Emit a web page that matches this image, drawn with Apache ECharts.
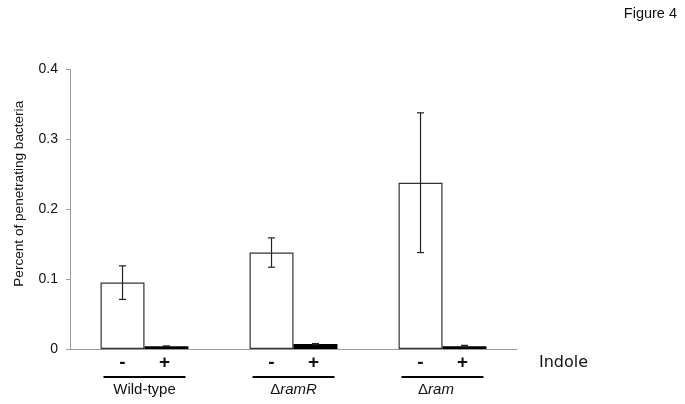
<!DOCTYPE html>
<html>
<head>
<meta charset="utf-8">
<script src="https://cdn.jsdelivr.net/npm/echarts@6/dist/echarts.min.js"></script>
<style>
  html, body { margin: 0; padding: 0; background: #fff; }
  #chart { width: 685px; height: 404px; }
</style>
</head>
<body>
<div id="chart"></div>
<script>
  // strains on the x axis
  const groups = ['Wild-type', 'ΔramR', 'Δram'];
  // percent of penetrating bacteria, without / with indole
  const withoutIndole = [0.095, 0.138, 0.238];
  const withIndole = [0.004, 0.007, 0.004];
  // error bar half-lengths
  const errWithout = [0.024, 0.021, 0.100];
  const errWith = [0.0004, 0.0008, 0.0012];
  const yTicks = [0, 0.1, 0.2, 0.3, 0.4];

  const chart = echarts.init(document.getElementById('chart'));

  const BAR_W = 0.295; // share of the band taken by one bar

  const errData = [];
  groups.forEach(function (g, i) {
    errData.push([i, withoutIndole[i], errWithout[i], -1]);
    errData.push([i, withIndole[i], errWith[i], 1]);
  });

  const option = {
    animation: false,
    textStyle: { fontFamily: 'Liberation Sans, Arial, sans-serif' },
    grid: { left: 70, right: 168, top: 69.5, bottom: 55 },
    xAxis: {
      type: 'category',
      data: groups,
      axisLine: { lineStyle: { color: '#9a9a9a', width: 1 } },
      axisTick: { length: 2, lineStyle: { color: '#9a9a9a' } },
      axisLabel: {
        margin: 27,
        formatter: function (v) {
          let name;
          if (v.charAt(0) === 'Δ') {
            name = '{n|Δ}{it|' + v.slice(1) + '}';
            // the short name sits left-aligned with the longer one in the source
            if (v.length < 5) name += '{sp| }';
          } else {
            name = '{n|' + v + '}';
          }
          return '{line| }\n' + name;
        },
        rich: {
          line: { width: 82, height: 2, lineHeight: 2, fontSize: 1, backgroundColor: '#000' },
          n: { fontSize: 15, color: '#111', lineHeight: 22, padding: [2, 0, 0, 0] },
          it: { fontSize: 15, color: '#111', fontStyle: 'italic', lineHeight: 22, padding: [2, 0, 0, 0] },
          sp: { width: 13, fontSize: 1, lineHeight: 22 }
        }
      }
    },
    yAxis: {
      type: 'value',
      min: 0,
      max: 0.4,
      interval: 0.1,
      name: 'Percent of penetrating bacteria',
      nameLocation: 'middle',
      nameGap: 44,
      nameTextStyle: { fontSize: 13.6, color: '#111', padding: [0, 0, 0, 31] },
      axisLine: { show: true, lineStyle: { color: '#9a9a9a' } },
      axisTick: { show: true, length: 4, lineStyle: { color: '#9a9a9a' } },
      axisLabel: {
        fontSize: 14,
        color: '#111',
        margin: 12,
        formatter: function (v) {
          const t = yTicks.find(function (k) { return Math.abs(k - v) < 1e-9; });
          return t === undefined ? '' : String(t);
        }
      },
      splitLine: { show: false }
    },
    series: [
      {
        name: '-',
        type: 'bar',
        data: withoutIndole,
        barWidth: (BAR_W * 100) + '%',
        barGap: '0%',
        itemStyle: { color: '#fff', borderColor: '#333', borderWidth: 1.2 },
        label: {
          show: true, position: 'bottom', distance: 4,
          formatter: '-', fontSize: 19, fontWeight: 'bold', color: '#111'
        }
      },
      {
        name: '+',
        type: 'bar',
        data: withIndole,
        barWidth: (BAR_W * 100) + '%',
        barGap: '0%',
        itemStyle: { color: '#000' },
        label: {
          show: true, position: 'bottom', distance: 4, offset: [-2, 0],
          formatter: '+', fontSize: 19, fontWeight: 'bold', color: '#111'
        }
      },
      {
        type: 'custom',
        data: errData,
        z: 10,
        renderItem: function (params, api) {
          const i = api.value(0), v = api.value(1), e = api.value(2), side = api.value(3);
          const band = api.size([1, 0])[0];
          const cx = api.coord([i, v])[0] + side * band * BAR_W / 2;
          const top = api.coord([i, v + e])[1];
          const bot = api.coord([i, Math.max(v - e, 0)])[1];
          const cap = 3.5;
          const st = { stroke: '#222', lineWidth: 1.2 };
          return {
            type: 'group',
            children: [
              { type: 'line', shape: { x1: cx, y1: top, x2: cx, y2: bot }, style: st },
              { type: 'line', shape: { x1: cx - cap, y1: top, x2: cx + cap, y2: top }, style: st },
              { type: 'line', shape: { x1: cx - cap, y1: bot, x2: cx + cap, y2: bot }, style: st }
            ]
          };
        }
      }
    ],
    graphic: [
      {
        type: 'text', left: 539, top: 355,
        style: { text: 'Indole', fontSize: 16, fontFamily: 'DejaVu Sans', fill: '#111' }
      },
      {
        type: 'text', right: 8, top: 6,
        style: { text: 'Figure 4', fontSize: 14.5, fontFamily: 'Liberation Sans, Arial', fill: '#111' }
      }
    ]
  };

  chart.setOption(option);
  window.onresize = function () { chart.resize(); };
</script>
</body>
</html>
